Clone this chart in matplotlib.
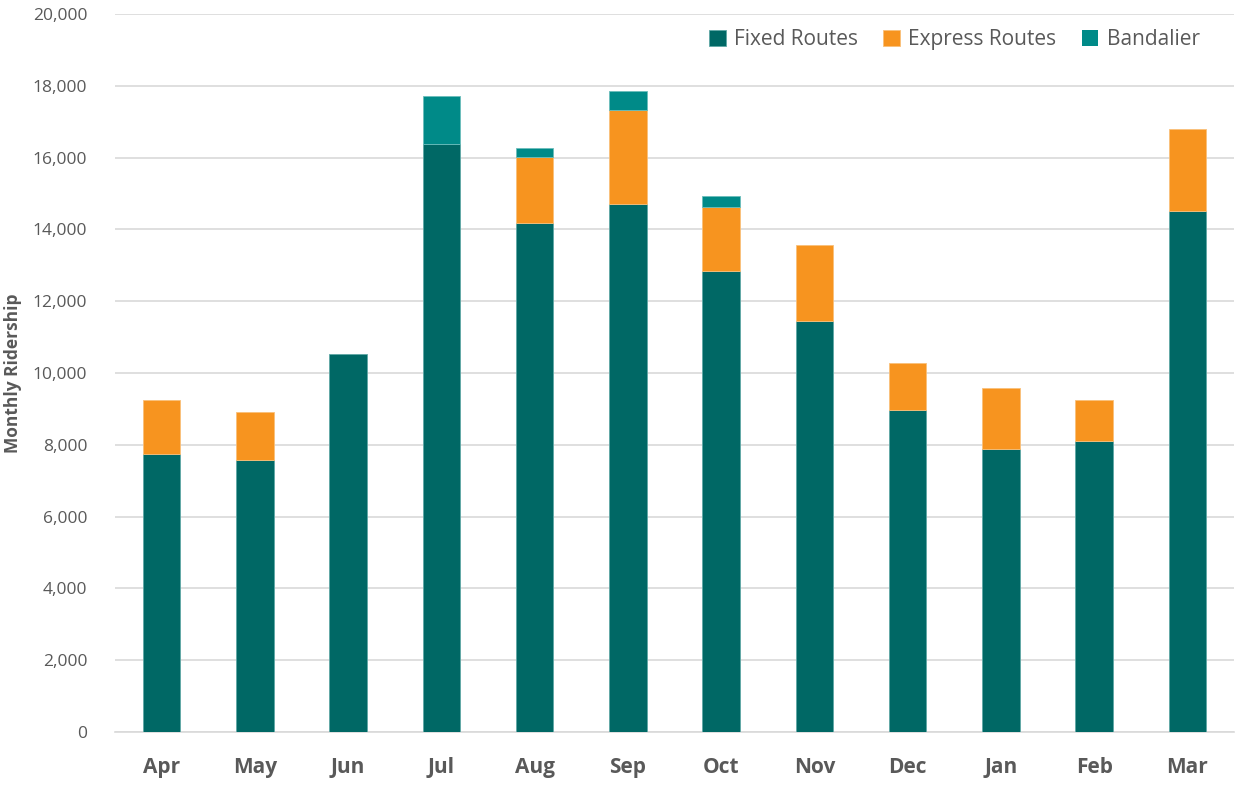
import matplotlib
matplotlib.use("Agg")
import matplotlib.pyplot as plt
import numpy as np

months = ["Apr", "May", "Jun", "Jul", "Aug", "Sep", "Oct", "Nov", "Dec", "Jan", "Feb", "Mar"]
fixed = [7730, 7580, 10530, 16380, 14180, 14710, 12840, 11450, 8970, 7880, 8110, 14510]
express = [1520, 1330, 0, 0, 1840, 2620, 1790, 2110, 1310, 1700, 1140, 2290]
bandalier = [0, 0, 0, 1340, 250, 530, 310, 0, 0, 0, 0, 0]

c_fixed = "#006865"
c_express = "#F7941F"
c_band = "#008A88"
txt = "#595959"

plt.rcParams['font.family'] = ['Open Sans', 'DejaVu Sans']

fig = plt.figure(figsize=(12.36, 7.94), dpi=100)
ax = fig.add_axes([115 / 1236, 62 / 794, 1119 / 1236, 718 / 794])

x = np.arange(len(months))
fixed = np.array(fixed)
express = np.array(express)
bandalier = np.array(bandalier)
w = 0.4


def lw(vals):
    # no outline on empty segments
    return [0.6 if v > 0 else 0 for v in vals]


ax.bar(x, fixed, w, color=c_fixed, edgecolor="#5FA8A6", linewidth=lw(fixed), label="Fixed Routes", zorder=3)
ax.bar(x, express, w, bottom=fixed, color=c_express, edgecolor="#F9C07A", linewidth=lw(express),
       label="Express Routes", zorder=3)
ax.bar(x, bandalier, w, bottom=fixed + express, color=c_band, edgecolor="#6BBDBB", linewidth=lw(bandalier),
       label="Bandalier", zorder=3)

ax.set_xlim(-0.5, len(months) - 0.5)
ax.set_ylim(0, 20000)
ax.set_yticks(np.arange(0, 20001, 2000))
ax.set_yticklabels([f"{v:,}" for v in range(0, 20001, 2000)], fontsize=12.5, color=txt)
ax.set_xticks(x)
ax.set_xticklabels(months, fontsize=15, fontweight="bold", color=txt)
ax.tick_params(axis="both", length=0)
ax.tick_params(axis="y", pad=20)
ax.tick_params(axis="x", pad=18)
ax.grid(axis="y", color="#D9D9D9", linewidth=1.2, zorder=0)
for s in ["top", "right", "left"]:
    ax.spines[s].set_visible(False)
ax.spines["bottom"].set_color("#D9D9D9")
ax.spines["bottom"].set_linewidth(1.2)

ax.set_ylabel("Monthly Ridership", fontsize=12.5, fontweight="bold", color=txt)
ax.yaxis.set_label_coords(-0.083, 0.5)

leg = ax.legend(loc="upper right", ncol=3, frameon=False, fontsize=15, handlelength=0.8,
                handleheight=0.8, handletextpad=0.4, columnspacing=1.2,
                bbox_to_anchor=(0.986, 1.005))
for t in leg.get_texts():
    t.set_color(txt)

fig.savefig("out.png", dpi=100, facecolor="white")
